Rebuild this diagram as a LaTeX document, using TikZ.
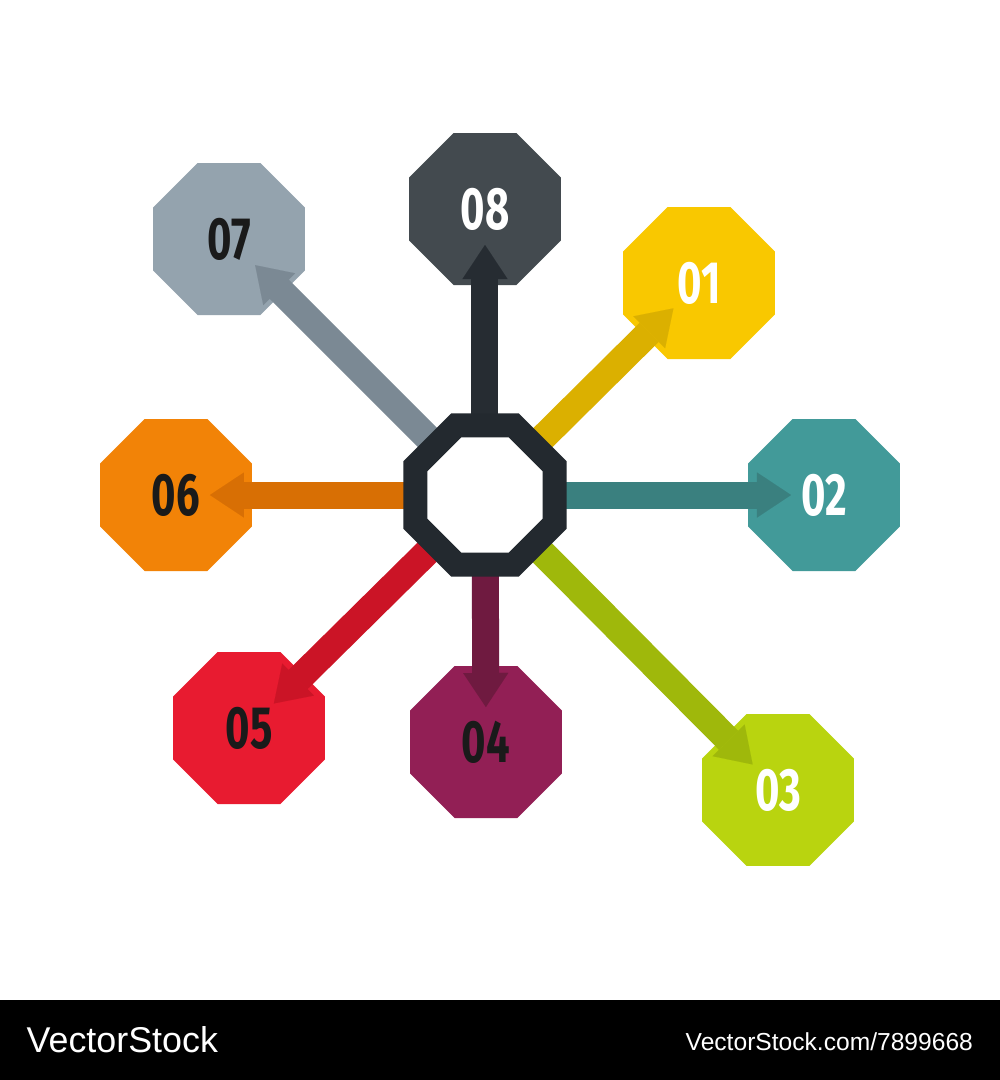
\documentclass[tikz,border=0pt]{standalone}
\usepackage{fontspec}
\setmainfont{Liberation Sans}
\newfontfamily\numfont[FakeStretch=0.7]{Fira Sans}
\usetikzlibrary{arrows.meta,calc,shapes.geometric}

\definecolor{ringdark}{HTML}{23292F}
\definecolor{gray08}{HTML}{434A4F}  \definecolor{gray08a}{HTML}{262C32}
\definecolor{gray07}{HTML}{94A3AE}  \definecolor{gray07a}{HTML}{7B8994}
\definecolor{yel01}{HTML}{F9C800}   \definecolor{yel01a}{HTML}{DBB000}
\definecolor{teal02}{HTML}{429A99}  \definecolor{teal02a}{HTML}{3A807F}
\definecolor{lime03}{HTML}{B9D40F}  \definecolor{lime03a}{HTML}{9FB80B}
\definecolor{plum04}{HTML}{921F55}  \definecolor{plum04a}{HTML}{6F1A40}
\definecolor{red05}{HTML}{E81B30}   \definecolor{red05a}{HTML}{CB1426}
\definecolor{org06}{HTML}{F28307}   \definecolor{org06a}{HTML}{D86F04}
\definecolor{numdark}{HTML}{1A1A1A}

\tikzset{
oct_box/.style={
	% The shape:
	regular polygon, regular polygon sides=8,
	% The size:
	minimum size=16.45mm, inner sep=0pt,
	% The filling:
	fill=#1,
	% Font
	font=\numfont\bfseries\fontsize{17pt}{17pt}\selectfont
},
hub_box/.style={
	regular polygon, regular polygon sides=8,
	minimum size=15.05mm, inner sep=0pt,
	% a thick dark ring, white inside
	line width=2.4mm, draw=ringdark, fill=white
},
spoke/.style={
	line width=2.7mm, draw=#1,
	-{Triangle[width=4.5mm,length=3.4mm,line width=0.01pt]}
}
}

\begin{document}
\begin{tikzpicture}[x=0.1mm,y=-0.1mm]
			\useasboundingbox (0,0) rectangle (1000,1080);
			\fill[white] (0,0) rectangle (1000,1000);

			% the outer boxes
			\node[oct_box=yel01, text=white] (o1) at (699,283) {01};
			\node[oct_box=teal02, text=white] (o2) at (824,495) {02};
			\node[oct_box=lime03, text=white] (o3) at (778,790) {03};
			\node[oct_box=plum04, text=numdark] (o4) at (486,742) {04};
			\node[oct_box=red05, text=numdark] (o5) at (249,728) {05};
			\node[oct_box=org06, text=numdark] (o6) at (176,495) {06};
			\node[oct_box=gray07, text=numdark] (o7) at (229,239) {07};
			\node[oct_box=gray08, text=white] (o8) at (485,209) {08};

			% the spokes, from the hub out
			\coordinate (hubpt) at (485,495);
			\draw[spoke=yel01a] (hubpt) -- ($(o1.center)!3.6mm!(hubpt)$);
			\draw[spoke=teal02a] (hubpt) -- ($(o2.center)!3.3mm!(hubpt)$);
			\draw[spoke=lime03a] (hubpt) -- ($(o3.center)!3.6mm!(hubpt)$);
			\draw[spoke=plum04a] (hubpt) -- ($(o4.center)!3.5mm!(hubpt)$);
			\draw[spoke=red05a] (hubpt) -- ($(o5.center)!3.5mm!(hubpt)$);
			\draw[spoke=org06a] (hubpt) -- ($(o6.center)!3.4mm!(hubpt)$);
			\draw[spoke=gray07a] (hubpt) -- ($(o7.center)!3.7mm!(hubpt)$);
			\draw[spoke=gray08a] (hubpt) -- ($(o8.center)!3.6mm!(hubpt)$);

			\node[hub_box] (hub) at (hubpt) {};

			% the bar at the foot
			\fill[black] (0,1000) rectangle (1000,1080);
			\node[anchor=base west, inner sep=0pt, text=white,
				font=\fontsize{10.2pt}{10.2pt}\selectfont] (brand) at (26,1052) {VectorStock};
			\node[anchor=base west, inner sep=0pt, text=white,
				font=\fontsize{7pt}{7pt}\selectfont] (link) at (685,1050) {VectorStock.com/7899668};
		\end{tikzpicture}
\end{document}
